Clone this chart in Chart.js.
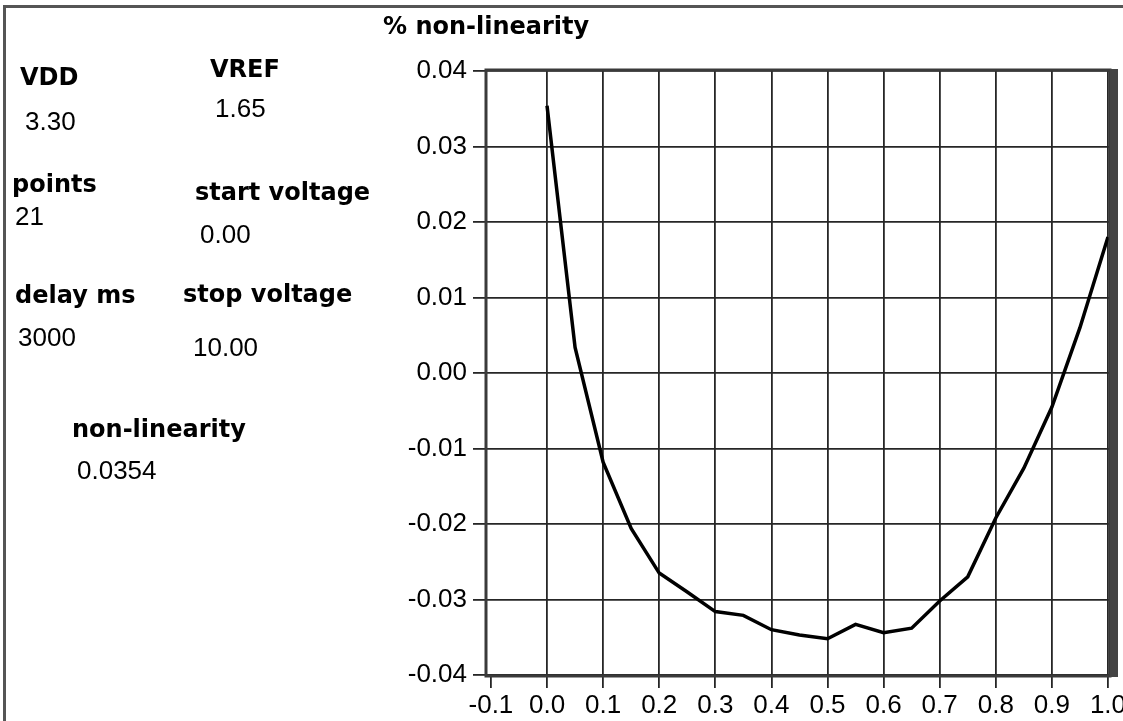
<!DOCTYPE html>
<html>
<head>
<meta charset="utf-8">
<script src="https://cdn.jsdelivr.net/npm/chart.js@4/dist/chart.umd.min.js"></script>
<style>
  body { margin: 0; background: #fff; }
  #page { position: relative; width: 1123px; height: 721px; overflow: hidden; background: #fff; }
  #edge { position: absolute; left: 3px; top: 5px; right: 0; bottom: 0; border-top: 3px solid #555; border-left: 3px solid #555; }
  #plot { position: absolute; left: 0; top: 0; }
  .lbl { position: absolute; font-family: "DejaVu Sans", sans-serif; font-weight: bold; font-size: 24px; line-height: 1; color: #000; white-space: nowrap; }
  .val { position: absolute; font-family: "Liberation Sans", Arial, sans-serif; font-size: 26px; line-height: 1; color: #000; white-space: nowrap; }
</style>
</head>
<body>
<div id="page">
  <div id="edge"></div>
  <canvas id="plot" width="1123" height="721"></canvas>

  <div class="lbl" style="left:383px; top:14px">% non-linearity</div>

  <div class="lbl" style="left:20px; top:65px">VDD</div>
  <div class="val" style="left:25px; top:108px">3.30</div>
  <div class="lbl" style="left:210px; top:57px">VREF</div>
  <div class="val" style="left:215px; top:95px">1.65</div>

  <div class="lbl" style="left:12px; top:172px">points</div>
  <div class="val" style="left:15px; top:203px">21</div>
  <div class="lbl" style="left:195px; top:180px">start voltage</div>
  <div class="val" style="left:200px; top:221px">0.00</div>

  <div class="lbl" style="left:15px; top:283px">delay ms</div>
  <div class="val" style="left:18px; top:324px">3000</div>
  <div class="lbl" style="left:183px; top:282px">stop voltage</div>
  <div class="val" style="left:193px; top:334px">10.00</div>

  <div class="lbl" style="left:72px; top:417px">non-linearity</div>
  <div class="val" style="left:77px; top:457px">0.0354</div>
</div>

<script>
// normalised input (0..1 of the 0-10 V sweep, 21 points)
const sweep = [0, 0.05, 0.1, 0.15, 0.2, 0.25, 0.3, 0.35, 0.4, 0.45, 0.5,
               0.55, 0.6, 0.65, 0.7, 0.75, 0.8, 0.85, 0.9, 0.95, 1.0];
// measured % non-linearity at each step
const nonLinearity = [0.0354, 0.0034, -0.0118, -0.0206, -0.0265, -0.0290, -0.0316,
                      -0.0321, -0.0340, -0.0347, -0.0352, -0.0333, -0.0344, -0.0338,
                      -0.0302, -0.0270, -0.0192, -0.0126, -0.0045, 0.0060, 0.0180];
const xTicks = [-0.1, 0.0, 0.1, 0.2, 0.3, 0.4, 0.5, 0.6, 0.7, 0.8, 0.9, 1.0];
const yTicks = [0.04, 0.03, 0.02, 0.01, 0.00, -0.01, -0.02, -0.03, -0.04];

const gridColor = '#262626';
const tickFont = { family: 'Liberation Sans', size: 26 };

// box round the plot area, heavy on the right side
const plotFrame = {
  id: 'plotFrame',
  afterDraw(chart) {
    const { ctx, chartArea: a } = chart;
    ctx.save();
    ctx.strokeStyle = '#3a3a3a';
    ctx.lineWidth = 3;
    ctx.strokeRect(a.left - 1, a.top - 1, a.right - a.left + 1, a.bottom - a.top + 2);
    ctx.fillStyle = '#444';
    ctx.fillRect(a.right, a.top - 2, 8, a.bottom - a.top + 4);
    ctx.restore();
  }
};

new Chart(document.getElementById('plot').getContext('2d'), {
  type: 'line',
  data: {
    datasets: [{
      label: '% non-linearity',
      data: sweep.map((x, i) => ({ x: x, y: nonLinearity[i] })),
      borderColor: '#000',
      borderWidth: 3.5,
      pointRadius: 0,
      tension: 0,
      fill: false
    }]
  },
  options: {
    responsive: false,
    animation: false,
    devicePixelRatio: 1,
    layout: { padding: { left: 401, top: 71, right: 13, bottom: 0 } },
    plugins: { legend: { display: false }, tooltip: { enabled: false } },
    scales: {
      x: {
        type: 'linear',
        min: -0.107,
        max: 1.0036,
        afterBuildTicks: s => { s.ticks = xTicks.map(v => ({ value: v })); },
        ticks: {
          callback: v => v.toFixed(1),
          font: tickFont, color: '#000', padding: 2,
          maxRotation: 0, autoSkip: false
        },
        grid: {
          color: c => (c.tick && c.tick.value < 0) ? 'rgba(0,0,0,0)' : gridColor,
          tickColor: gridColor,
          lineWidth: 1.8,
          tickLength: 13
        },
        border: { display: false },
        afterFit: s => { s.height = 46; s.paddingLeft = 0; s.paddingRight = 0; }
      },
      y: {
        min: -0.04,
        max: 0.04,
        afterBuildTicks: s => { s.ticks = yTicks.map(v => ({ value: v })); },
        ticks: {
          callback: v => v.toFixed(2),
          font: tickFont, color: '#000', padding: 6
        },
        grid: { color: gridColor, lineWidth: 1.8, tickLength: 14 },
        border: { display: false },
        afterFit: s => { s.width = 86; s.paddingTop = 0; s.paddingBottom = 0; }
      }
    }
  },
  plugins: [plotFrame]
});
</script>
</body>
</html>
